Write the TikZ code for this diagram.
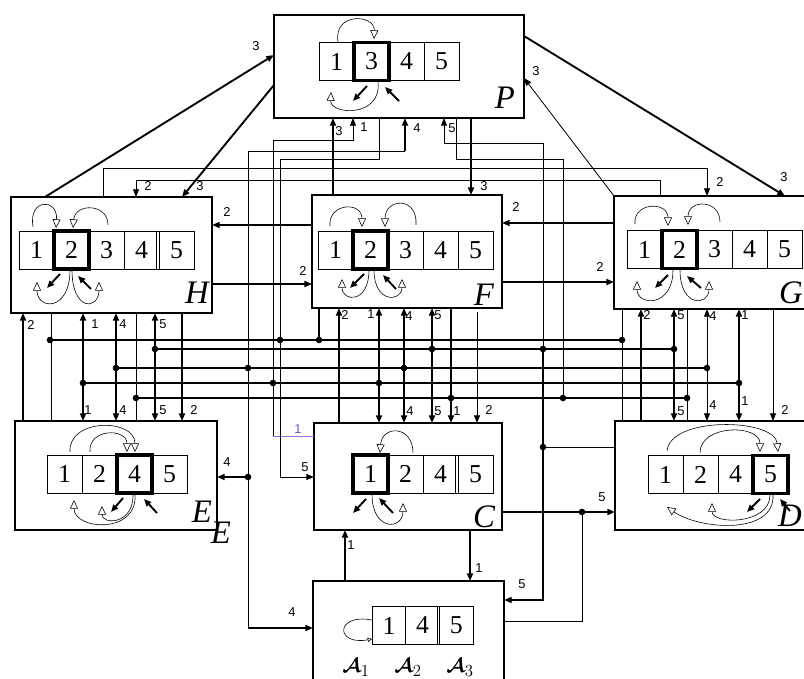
\documentclass[tikz,border=0pt]{standalone}
\usepackage{amsmath,bm}
\usepackage{fontspec}
\setmainfont{Liberation Serif}
\setsansfont{Liberation Sans}
\usetikzlibrary{arrows.meta,positioning}
\definecolor{lilac}{RGB}{150,110,225}

\begin{document}
\begin{tikzpicture}[x=0.03cm,y=-0.03cm,
  blk/.style={draw, line width=0.9pt, inner sep=0pt, outer sep=0pt},
  cell/.style={draw, line width=0.7pt, minimum width=1.05cm, minimum height=1.14cm,
               inner sep=0pt, outer sep=0pt, font=\fontsize{22}{24}\selectfont},
  sel/.style={cell, line width=3pt},
  tag/.style={font=\fontsize{28}{30}\selectfont\itshape, inner sep=0pt},
  atag/.style={font=\fontsize{19}{21}\selectfont, inner sep=0pt},
  lab/.style={font=\sffamily\fontsize{11}{12}\selectfont, inner sep=1pt},
  wire/.style={line width=0.7pt},
  bus/.style={line width=1.6pt},
  loopln/.style={line width=0.5pt, -{Triangle[open,length=2.6mm,width=2.4mm]}},
  stub/.style={line width=1.6pt, -{Triangle[length=2.2mm,width=1.8mm]}},
  >={Triangle[length=2.3mm,width=1.8mm]}]
  \useasboundingbox (0,0) rectangle (804,679);
  \clip (0,0) rectangle (804,679);

  % blocks
  \node[blk, minimum width=7.5cm,  minimum height=3.09cm] (P) at (399,66.5) {};
  \node[blk, minimum width=6.03cm, minimum height=3.48cm] (H) at (111.5,255) {};
  \node[blk, minimum width=5.7cm,  minimum height=3.39cm] (F) at (407,251.5) {};
  \node[blk, minimum width=6.78cm, minimum height=3.39cm] (G) at (727,252.5) {};
  \node[blk, minimum width=6.06cm, minimum height=3.27cm] (E) at (116,475.5) {};
  \node[blk, minimum width=5.64cm, minimum height=3.21cm] (C) at (408,476.5) {};
  \node[blk, minimum width=6.75cm, minimum height=3.27cm] (D) at (727.5,475.5) {};
  \node[blk, minimum width=5.73cm, minimum height=3.57cm] (A) at (408.5,640.5) {};

  \node[tag] (tP) at (505,98) {P};
  \node[tag] (tH) at (197,293) {H};
  \node[tag] (tF) at (484,295) {F};
  \node[tag] (tG) at (791,293) {G};
  \node[tag] (tE) at (202,512) {E};
  \node[tag] (tE2) at (221,533) {E};
  \node[tag] (tC) at (484,517) {C};
  \node[tag] (tD) at (790,516) {D};
  \node[atag] (tA1) at (356,668) {$\bm{\mathcal{A}}_1$};
  \node[atag] (tA2) at (408,668) {$\bm{\mathcal{A}}_2$};
  \node[atag] (tA3) at (460,668) {$\bm{\mathcal{A}}_3$};

  % state rows
  \node[cell] (P1) at (336.5,61.5) {1};
  \node[sel, right=0pt of P1] (P3) {3};
  \node[cell, right=0pt of P3] (P4) {4};
  \node[cell, right=0pt of P4] (P5) {5};

  \node[cell] (H1) at (36.5,250) {1};
  \node[sel, right=0pt of H1] (H2) {2};
  \node[cell, right=0pt of H2] (H3) {3};
  \node[cell, right=0pt of H3] (H4) {4};
  \node[cell, right=0pt of H4] (H5) {5};

  \node[cell] (F1) at (335.5,250) {1};
  \node[sel, right=0pt of F1] (F2) {2};
  \node[cell, right=0pt of F2] (F3) {3};
  \node[cell, right=0pt of F3] (F4) {4};
  \node[cell, right=0pt of F4] (F5) {5};

  \node[cell] (G1) at (644.5,249.5) {1};
  \node[sel, right=0pt of G1] (G2) {2};
  \node[cell, right=0pt of G2] (G3) {3};
  \node[cell, right=0pt of G3] (G4) {4};
  \node[cell, right=0pt of G4] (G5) {5};

  \node[cell] (E1) at (64.5,474) {1};
  \node[cell, right=0pt of E1] (E2) {2};
  \node[sel, right=0pt of E2] (E4) {4};
  \node[cell, right=0pt of E4] (E5) {5};

  \node[sel] (C1) at (370.5,474) {1};
  \node[cell, right=0pt of C1] (C2) {2};
  \node[cell, right=0pt of C2] (C4) {4};
  \node[cell, right=0pt of C4] (C5) {5};

  \node[cell] (D1) at (665.5,474.5) {1};
  \node[cell, right=0pt of D1] (D2) {2};
  \node[cell, right=0pt of D2] (D4) {4};
  \node[sel, right=0pt of D4] (D5) {5};

  \node[cell, minimum width=1.01cm] (A1) at (389,625.5) {1};
  \node[cell, minimum width=1.01cm, right=0pt of A1] (A4) {4};
  \node[cell, minimum width=1.01cm, right=0pt of A4] (A5) {5};

  \draw[line width=0.7pt] ([xshift=-2pt]H5.north west) -- ([xshift=-2pt]H5.south west);
  \draw[line width=0.7pt] ([xshift=-2pt]C5.north west) -- ([xshift=-2pt]C5.south west);
  \draw[line width=0.7pt] ([xshift=-2pt]A5.north west) -- ([xshift=-2pt]A5.south west);

  % transitions inside the blocks
  \draw[loopln] (338,42) .. controls (333,12) and (375,14) .. (374,39);
  \draw[loopln] (378,82) .. controls (382,118) and (330,115) .. (331,92);
  \draw[stub] (367,86) -- (353,101);
  \draw[stub] (399,101) -- (385,87);

  \draw[loopln] (33,227) .. controls (28,198) and (58,198) .. (56,228);
  \draw[loopln] (108,225) .. controls (108,203) and (75,203) .. (73,228);
  \draw[loopln] (70,270) .. controls (70,312) and (37,310) .. (37,282);
  \draw[loopln] (72,270) .. controls (72,312) and (99,310) .. (99,282);
  \draw[stub] (60,274) -- (47,288);
  \draw[stub] (91,289) -- (78,276);

  \draw[loopln] (330,226) .. controls (328,203) and (362,201) .. (362,227);
  \draw[loopln] (416,225) .. controls (418,196) and (385,198) .. (385,227);
  \draw[loopln] (369,270) .. controls (369,304) and (342,302) .. (342,279);
  \draw[loopln] (374,270) .. controls (374,304) and (402,302) .. (402,279);
  \draw[stub] (364,274) -- (350,288);
  \draw[stub] (396,289) -- (383,275);

  \draw[loopln] (635,224) .. controls (633,202) and (668,201) .. (668,226);
  \draw[loopln] (720,222) .. controls (720,199) and (688,199) .. (688,225);
  \draw[loopln] (673,270) .. controls (673,308) and (637,306) .. (637,281);
  \draw[loopln] (680,270) .. controls (680,308) and (709,306) .. (709,281);
  \draw[stub] (668,275) -- (655,288);
  \draw[stub] (701,288) -- (687,276);

  \draw[loopln] (70,452) .. controls (68,418) and (135,418) .. (135,452);
  \draw[loopln] (90,452) .. controls (88,428) and (127,428) .. (127,452);
  \draw[loopln] (135,494) .. controls (138,535) and (74,530) .. (74,500);
  \draw[loopln] (133,494) .. controls (134,525) and (102,525) .. (102,506);
  \draw[stub] (123,498) -- (111,512);
  \draw[stub] (157,513) -- (144,499);

  \draw[loopln] (413,453) .. controls (413,425) and (382,425) .. (380,453);
  \draw[loopln] (372,494) .. controls (372,532) and (403,530) .. (403,503);
  \draw[stub] (366,499) -- (353,513);
  \draw[stub] (393,513) -- (379,498);

  \draw[loopln] (667,451) .. controls (670,416) and (775,418) .. (778,452);
  \draw[loopln] (700,453) .. controls (700,424) and (760,424) .. (760,452);
  \draw[loopln] (773,495) .. controls (775,535) and (700,530) .. (667,507);
  \draw[loopln] (770,495) .. controls (770,525) and (712,525) .. (712,503);
  \draw[stub] (760,499) -- (747,512);
  \draw[stub] (790,511) -- (780,499);

  \draw[line width=0.5pt, -{Triangle[open,length=1.3mm,width=1.3mm]}]
    (372,620) .. controls (335,613) and (335,646) .. (372,639);

  % links above and beside the upper blocks
  \draw[bus,->] (45,0 |- H.north) -- (P.west |- 0,55);
  \draw[bus,->] (P.west |- 0,85) -- (182,0 |- H.north);
  \draw[wire,->] (G.north west) -- (P.east |- 0,78);
  \draw[bus,->] (P.east |- 0,36) -- (785,0 |- G.north);
  \draw[bus,->] (471,0 |- P.south) -- (471,0 |- F.north);
  \draw[bus,->] (333,0 |- F.north) -- (333,0 |- P.south);
  \draw[wire,lilac] (C.west |- 0,436) -- (273,436);
  \draw[wire,->] (273,436) -- (273,140) -- (353,140) -- (353,0 |- P.south);
  \draw[wire,->] (379,0 |- P.south) -- (379,159) -- (280,159) -- (280,477) -- (C.west |- 0,477);
  \draw[wire] (248,628) -- (248,151) -- (405,151);
  \draw[bus,->] (405,151) -- (405,0 |- P.south);
  \draw[bus,->] (248,628) -- (A.west |- 0,628);
  \draw[bus,->] (248,477) -- (E.east |- 0,477);
  \draw[wire,->] (543,349) -- (543,143) -- (444,143) -- (444,0 |- P.south);
  \draw[bus,->] (543,349) -- (543,600) -- (A.east |- 0,600);
  \draw[wire] (543,447) -- (D.west |- 0,447);
  \draw[wire] (456,0 |- P.south) -- (456,159) -- (563,159) -- (563,398);
  \draw[wire,->] (103,0 |- H.north) -- (103,168) -- (707,168) -- (707,0 |- G.north);
  \draw[wire,->] (660,0 |- G.north) -- (660,180) -- (136,180) -- (136,0 |- H.north);

  \draw[bus,->] (F.west |- 0,225) -- (H.east |- 0,225);
  \draw[bus,->] (H.east |- 0,284) -- (F.west |- 0,284);
  \draw[bus,->] (G.west |- 0,223) -- (F.east |- 0,223);
  \draw[bus,->] (F.east |- 0,282) -- (G.west |- 0,282);

  % H <-> E
  \draw[bus,->] (23,0 |- E.north) -- (23,0 |- H.south);
  \draw[wire] (51,0 |- H.south) -- (51,0 |- E.north);
  \draw[bus,<->] (83,0 |- H.south) -- (83,0 |- E.north);
  \draw[bus,<->] (116,0 |- H.south) -- (116,0 |- E.north);
  \draw[wire] (136,0 |- H.south) -- (136,0 |- E.north);
  \draw[bus,<->] (155,0 |- H.south) -- (155,0 |- E.north);
  \draw[bus,->] (182,0 |- H.south) -- (182,0 |- E.north);

  % F <-> C
  \draw[bus] (319,0 |- F.south) -- (319,340);
  \draw[bus,->] (339,0 |- C.north) -- (339,0 |- F.south);
  \draw[bus,<->] (379,0 |- F.south) -- (379,0 |- C.north);
  \draw[bus,<->] (404,0 |- F.south) -- (404,0 |- C.north);
  \draw[bus,<->] (432,0 |- F.south) -- (432,0 |- C.north);
  \draw[bus,->] (451,0 |- F.south) -- (451,0 |- C.north);
  \draw[wire,->] (477,312) -- (477,0 |- C.north);

  % G <-> D
  \draw[wire] (622,0 |- G.south) -- (622,0 |- D.north);
  \draw[bus,->] (641,0 |- D.north) -- (641,0 |- G.south);
  \draw[bus,<->] (674,0 |- G.south) -- (674,0 |- D.north);
  \draw[wire] (687,0 |- G.south) -- (687,0 |- D.north);
  \draw[wire,<->] (707,0 |- G.south) -- (707,0 |- D.north);
  \draw[bus,<->] (739,0 |- G.south) -- (739,0 |- D.north);
  \draw[wire,->] (773,0 |- G.south) -- (773,0 |- D.north);

  % cross lines
  \draw[bus] (50,340) -- (622,340);
  \draw[bus] (155,349) -- (674,349);
  \draw[bus] (116,368) -- (707,368);
  \draw[bus] (83,383) -- (739,383);
  \draw[bus] (136,398) -- (688,398);
  \foreach \p in {(50,340),(280,340),(319,340),(622,340),
                  (155,349),(432,349),(543,349),(674,349),
                  (116,368),(248,368),(404,368),(707,368),
                  (83,383),(273,383),(379,383),(739,383),
                  (136,398),(451,398),(563,398),(687,398),
                  (248,477),(543,447),(582,512)}
    \fill \p circle[radius=2.8pt];

  % lower links
  \draw[bus,->] (C.east |- 0,512) -- (D.west |- 0,512);
  \draw[wire] (A.east |- 0,621) -- (582,621) -- (582,512);
  \draw[bus,->] (470,0 |- C.south) -- (470,0 |- A.north);
  \draw[bus,->] (345,0 |- A.north) -- (345,0 |- C.south);

  % port numbers
  \node[lab] (nHP) at (256,46) {3};
  \node[lab] (nPH) at (200,186) {3};
  \node[lab] (nGP) at (536,71) {3};
  \node[lab] (nPG) at (784,177) {3};
  \node[lab] (nPF) at (484,186) {3};
  \node[lab] (nFP) at (339,131) {3};
  \node[lab] (nCP) at (364,127) {1};
  \node[lab,text=lilac!80!black] (nCPb) at (298,429) {1};
  \node[lab] (nPC) at (305,467) {5};
  \node[lab] (nAP) at (417,128) {4};
  \node[lab] (nAA) at (292,612) {4};
  \node[lab] (nAE) at (227,462) {4};
  \node[lab] (nDP) at (452,128) {5};
  \node[lab] (nDA) at (522,584) {5};
  \node[lab] (nHG) at (720,182) {2};
  \node[lab] (nGH) at (148,186) {2};
  \node[lab] (nFH) at (227,212) {2};
  \node[lab] (nHF) at (303,271) {2};
  \node[lab] (nGF) at (516,207) {2};
  \node[lab] (nFG) at (600,267) {2};
  \node[lab] (nE2) at (31,325) {2};
  \node[lab] (nH1) at (95,324) {1};
  \node[lab] (nH4) at (123,324) {4};
  \node[lab] (nH5) at (163,324) {5};
  \node[lab] (nE1) at (88,410) {1};
  \node[lab] (nE4) at (123,410) {4};
  \node[lab] (nE5) at (163,410) {5};
  \node[lab] (nE2b) at (194,410) {2};
  \node[lab] (nF2) at (345,315) {2};
  \node[lab] (nF1) at (371,314) {1};
  \node[lab] (nF4) at (409,316) {4};
  \node[lab] (nF5) at (438,315) {5};
  \node[lab] (nC4) at (410,411) {4};
  \node[lab] (nC5) at (438,411) {5};
  \node[lab] (nC1) at (457,411) {1};
  \node[lab] (nC2) at (489,410) {2};
  \node[lab] (nG2) at (647,315) {2};
  \node[lab] (nG5) at (681,315) {5};
  \node[lab] (nG4) at (713,316) {4};
  \node[lab] (nG1) at (745,315) {1};
  \node[lab] (nD5) at (681,411) {5};
  \node[lab] (nD4) at (713,405) {4};
  \node[lab] (nD1) at (745,401) {1};
  \node[lab] (nD2) at (785,410) {2};
  \node[lab] (nCD) at (602,497) {5};
  \node[lab] (nAC) at (351,545) {1};
  \node[lab] (nCA) at (479,568) {1};
\end{tikzpicture}
\end{document}
